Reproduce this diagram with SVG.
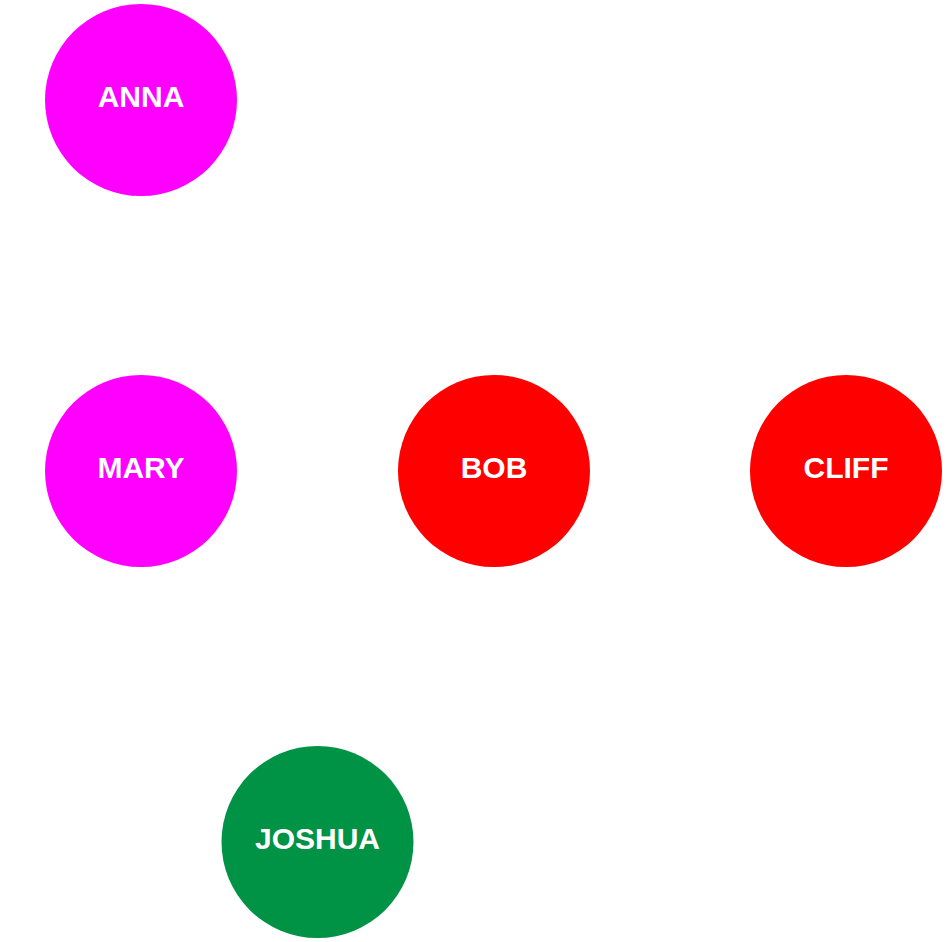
<svg xmlns="http://www.w3.org/2000/svg" width="946" height="942" viewBox="0 0 946 942">
<style>
.lbl{font-family:"Liberation Sans",Arial,sans-serif;font-weight:bold;font-size:30px;fill:#ffffff;text-anchor:middle}
.mag{fill:#ff00ff}
.red{fill:#ff0000}
.grn{fill:#009245}
</style>
<rect width="946" height="942" fill="#ffffff"/>
<g id="connectors"></g>
<g id="anna"><circle class="mag" cx="141" cy="100" r="96"/><text class="lbl" x="141" y="107.3">ANNA</text></g>
<g id="mary"><circle class="mag" cx="141" cy="471" r="96"/><text class="lbl" x="141" y="478.3">MARY</text></g>
<g id="bob"><circle class="red" cx="494" cy="471" r="96"/><text class="lbl" x="494" y="478.3">BOB</text></g>
<g id="cliff"><circle class="red" cx="846" cy="471" r="96"/><text class="lbl" x="846" y="478.3">CLIFF</text></g>
<g id="joshua"><circle class="grn" cx="317.5" cy="842" r="96"/><text class="lbl" x="317.5" y="849.3">JOSHUA</text></g>
</svg>
